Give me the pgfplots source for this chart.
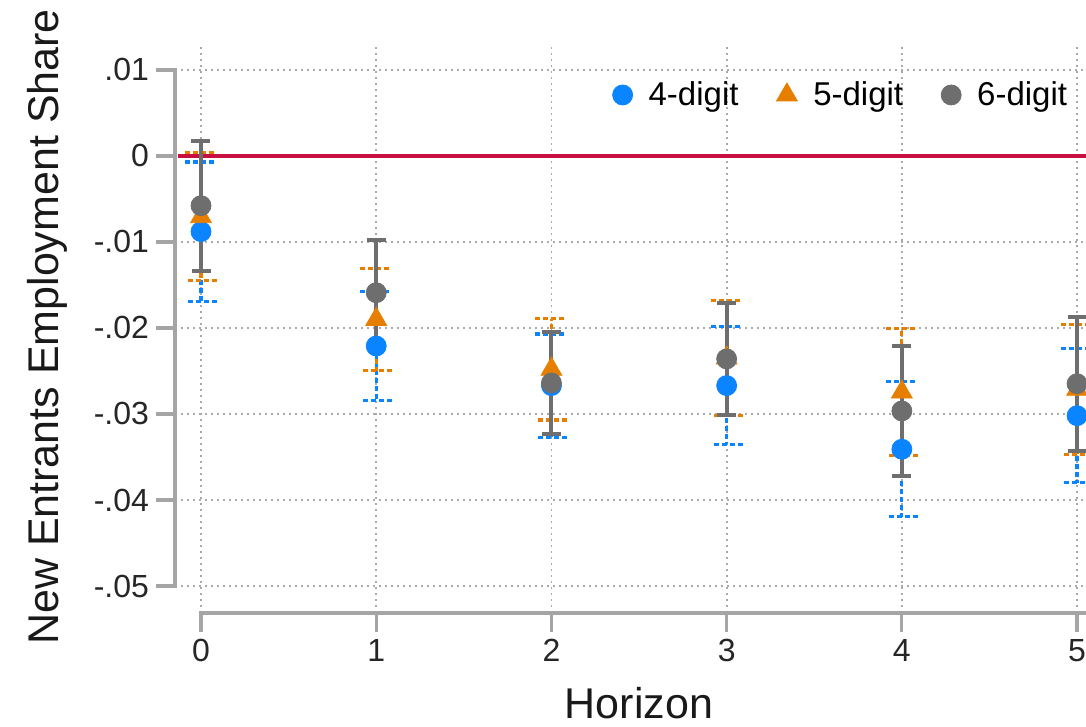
\documentclass[border=0pt]{standalone}
\usepackage{fontspec}
\setmainfont{Liberation Sans}
\usepackage{pgfplots}
\usepackage{pgfplotstable}
\pgfplotsset{compat=1.18}
\definecolor{cblue}{RGB}{10,132,255}
\definecolor{corange}{RGB}{230,126,0}
\definecolor{cgray}{RGB}{110,110,110}
\definecolor{cred}{RGB}{200,16,64}
\definecolor{cspine}{RGB}{165,165,165}
\definecolor{cgrid}{RGB}{170,170,170}

\pgfplotstableread{
x y e
0 -0.0088 0.0081
1 -0.0221 0.00636
2 -0.0267 0.0060
3 -0.0267 0.00684
4 -0.0341 0.00785
5 -0.0302 0.00777
}\fourdigit
\pgfplotstableread{
x y e
0 -0.00706 0.00744
1 -0.0190 0.00596
2 -0.0248 0.0059
3 -0.0235 0.00665
4 -0.02745 0.0074
5 -0.02713 0.00756
}\fivedigit
\pgfplotstableread{
x y e
0 -0.00578 0.00756
1 -0.0159 0.00608
2 -0.0264 0.00592
3 -0.0236 0.00653
4 -0.02965 0.00756
5 -0.02648 0.00779
}\sixdigit

\begin{document}
\begin{tikzpicture}
\begin{axis}[
  at={(0,0)}, anchor=south west,
  scale only axis, width=455.5pt, height=284pt,
  xmin=-0.1484, xmax=5.051, ymin=-0.05314, ymax=0.0129,
  axis line style={draw=none},
  scaled ticks=false,
  xtick={0,1,2,3,4,5}, xticklabels={0,1,2,3,4,5},
  ytick={-0.05,-0.04,-0.03,-0.02,-0.01,0,0.01},
  yticklabels={-.05,-.04,-.03,-.02,-.01,0,.01},
  xtick pos=bottom, ytick pos=left, tick align=outside,
  major tick length=9.5pt,
  tick style={cspine, line width=1.6pt},
  grid=major,
  grid style={cgrid, line width=0.9pt, dash pattern=on 1pt off 2pt},
  /pgf/number format/assume math mode=true,
  ticklabel style={font=\fontsize{16}{19}\selectfont, text=black!85},
  xlabel={Horizon},
  ylabel={New Entrants Employment Share},
  label style={font=\fontsize{21.5}{25}\selectfont, text=black!90},
  xlabel style={at={(rel axis cs:0.5093,-0.185)}, anchor=base},
  ylabel style={at={(rel axis cs:-0.1284,0.5035)}, anchor=base},
  legend style={at={(rel axis cs:0.732,0.912)}, anchor=center, draw=none, fill=none,
    font=\fontsize{16.5}{20}\selectfont, legend columns=-1,
    /tikz/every odd column/.append style={column sep=6pt},
    /tikz/every even column/.append style={column sep=17pt}},
  clip=false,
]
\addplot[cred, line width=2pt, forget plot] coordinates {(-0.13,0) (5.051,0)};
\draw[cspine, line width=2pt, line cap=rect] (axis cs:-0.1484,-0.05) -- (axis cs:-0.1484,0.01);
\draw[cspine, line width=2pt, line cap=rect] (axis cs:0,-0.05314) -- (axis cs:5.051,-0.05314);

\addplot[only marks, mark=*, mark size=5pt, color=cblue, mark options={fill=cblue, draw=cblue, solid},
  error bars/.cd, y dir=both, y explicit,
  error bar style={line width=1.6pt, dash pattern=on 2.5pt off 1.5pt},
  error mark options={rotate=90, mark size=8pt, line width=1.6pt, dash pattern=on 2.5pt off 1.5pt}]
  table[x=x, y=y, y error=e] {\fourdigit};
\addlegendentry{4-digit}
\addplot[only marks, mark=triangle*, mark size=6pt, color=corange, mark options={fill=corange, draw=corange, solid},
  error bars/.cd, y dir=both, y explicit,
  error bar style={line width=1.6pt, dash pattern=on 2.5pt off 1.5pt},
  error mark options={rotate=90, mark size=8pt, line width=1.6pt, dash pattern=on 2.5pt off 1.5pt}]
  table[x=x, y=y, y error=e] {\fivedigit};
\addlegendentry{5-digit}
\addplot[only marks, mark=*, mark size=5pt, color=cgray, mark options={fill=cgray, draw=cgray, solid},
  error bars/.cd, y dir=both, y explicit,
  error bar style={line width=2pt, solid},
  error mark options={rotate=90, mark size=4.75pt, line width=2pt, solid}]
  table[x=x, y=y, y error=e] {\sixdigit};
\addlegendentry{6-digit}
\end{axis}
\pgfresetboundingbox
\path (-87.5pt,-57pt) rectangle (455.5pt,306.5pt);
\end{tikzpicture}
\end{document}
